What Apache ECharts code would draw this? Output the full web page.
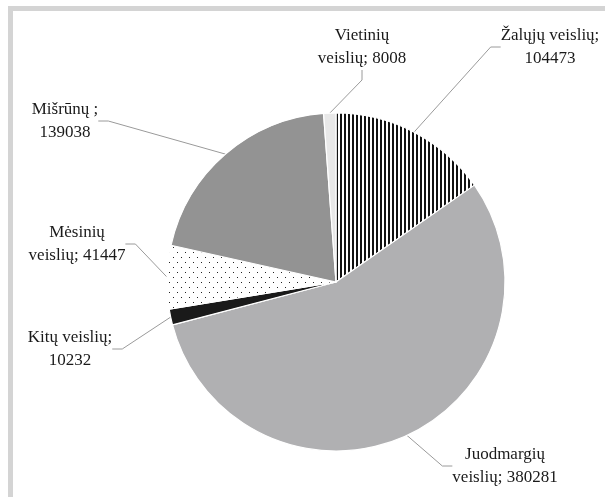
<!DOCTYPE html>
<html>
<head>
<meta charset="utf-8">
<script src="https://cdn.jsdelivr.net/npm/echarts@6/dist/echarts.min.js"></script>
<style>
  html, body { margin: 0; background: #fff; }
  #chart { width: 605px; height: 497px; }
</style>
</head>
<body>
<div id="chart"></div>
<script>
const categories = ['Žalųjų veislių', 'Juodmargių\nveislių', 'Kitų veislių', 'Mėsinių\nveislių', 'Mišrūnų ', 'Vietinių\nveislių']
const values = [104473, 380281, 10232, 41447, 139038, 8008]

// centre of each label block
const labelPos = [[550, 47], [505, 466], [70, 349], [77, 244], [65, 121], [362, 47]]

function stripes() {
  const c = document.createElement('canvas')
  c.width = 4
  c.height = 4
  const ctx = c.getContext('2d')
  ctx.fillStyle = '#fff'
  ctx.fillRect(0, 0, 4, 4)
  ctx.fillStyle = '#111'
  ctx.fillRect(0, 0, 2, 4)
  return c
}

function dots() {
  const c = document.createElement('canvas')
  c.width = 8
  c.height = 10
  const ctx = c.getContext('2d')
  ctx.fillStyle = '#fff'
  ctx.fillRect(0, 0, 8, 10)
  ctx.fillStyle = '#222'
  ctx.fillRect(1, 2, 1, 1)
  ctx.fillRect(5, 7, 1, 1)
  return c
}

const fills = [
  { image: stripes(), repeat: 'repeat' },
  '#b0b0b2',
  '#1a1a1a',
  { image: dots(), repeat: 'repeat' },
  '#939393',
  '#e8e8e8'
]

const chart = echarts.init(document.getElementById('chart'))

chart.setOption({
  animation: false,
  graphic: [{
    type: 'rect',
    shape: { x: 10.5, y: 8.5, width: 640, height: 520 },
    style: { fill: null, stroke: '#d4d4d4', lineWidth: 5 },
    silent: true
  }],
  series: [{
    type: 'pie',
    center: [336, 282],
    radius: 169,
    startAngle: 90,
    clockwise: true,
    avoidLabelOverlap: false,
    itemStyle: { borderColor: '#fff', borderWidth: 1.2 },
    label: {
      show: true,
      position: 'outside',
      fontFamily: '"Liberation Serif", "Times New Roman", serif',
      fontSize: 17,
      lineHeight: 23,
      color: '#1a1a1a',
      align: 'center',
      formatter: function (p) {
        return p.name.indexOf('\n') >= 0 ? p.name + '; ' + p.value : p.name + ';\n' + p.value
      }
    },
    labelLine: {
      show: true,
      length: 10,
      length2: 10,
      lineStyle: { color: '#9a9a9a', width: 1 }
    },
    labelLayout: function (p) {
      const pos = labelPos[p.dataIndex]
      return { x: pos[0], y: pos[1], align: 'center', verticalAlign: 'middle' }
    },
    emphasis: { disabled: true },
    data: categories.map(function (name, i) {
      return { name: name, value: values[i], itemStyle: { color: fills[i] } }
    })
  }]
})
</script>
</body>
</html>
